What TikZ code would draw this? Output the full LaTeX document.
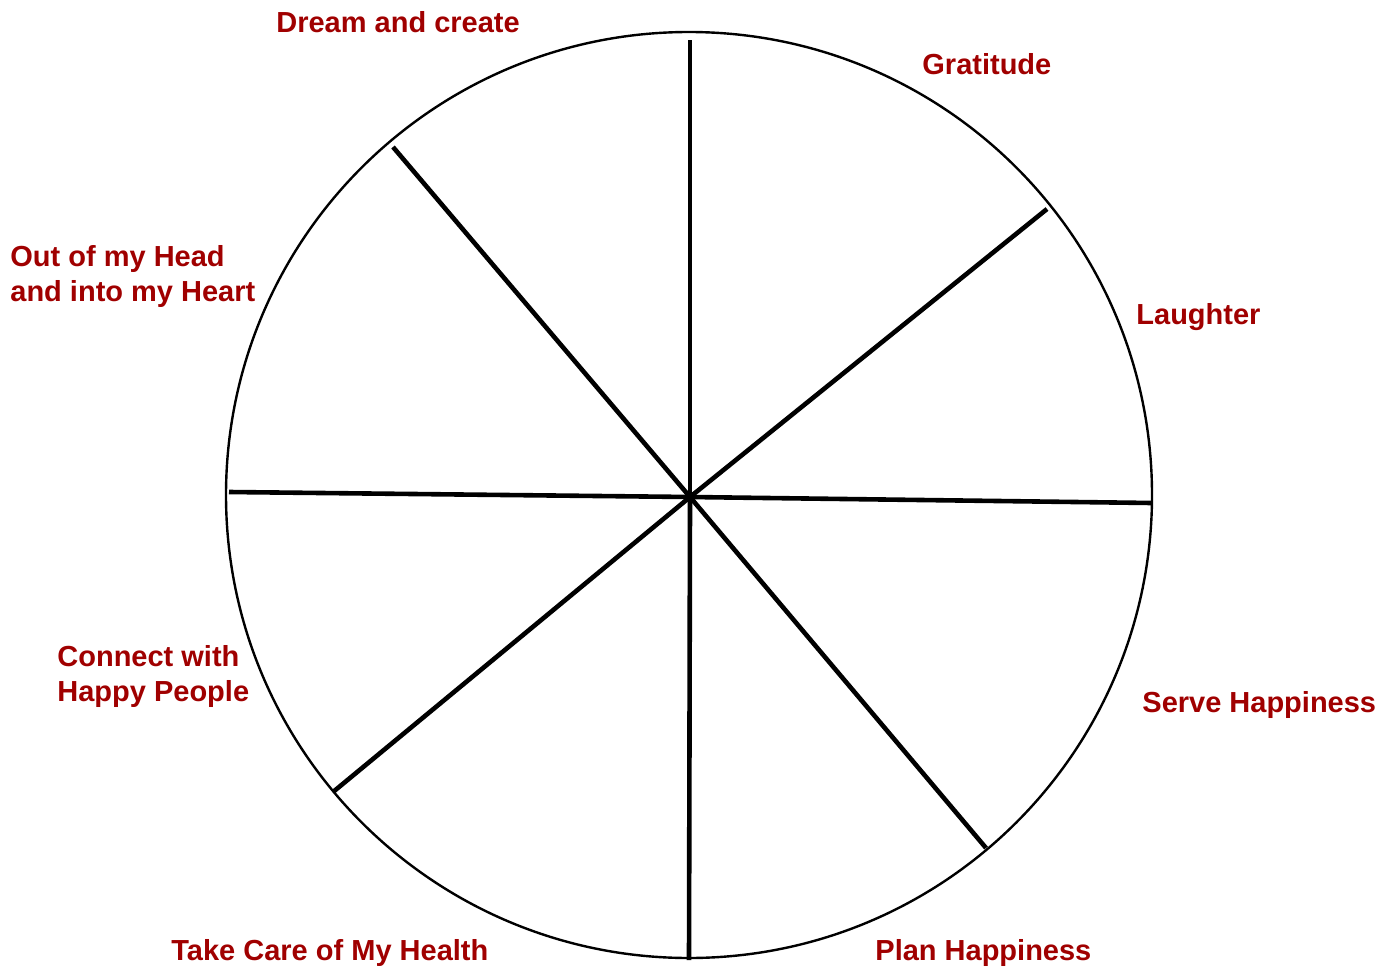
\documentclass[tikz,border=0pt]{standalone}
\usepackage{fontspec}
\setmainfont{Liberation Sans}
\definecolor{wheelred}{RGB}{160,0,0}

\begin{document}
\begin{tikzpicture}[
    x=0.5pt, y=-0.5pt,
    every node/.style={font=\bfseries\fontsize{14.5}{17.5}\selectfont, text=wheelred, inner sep=0pt, align=left},
    lbl/.style={anchor=base west},
    spoke/.style={line width=2.3pt, black},
    rim/.style={line width=1.2pt, black},
]
\useasboundingbox (0,0) rectangle (1395,968);

% Parameters
\def\Rwheel{463}

% === Rim of the wheel ===
\coordinate (hub) at (690,497);
\draw[rim] (689,495) circle (\Rwheel);

% === Spokes (end points on the rim) ===
\coordinate (s1) at (690,40);
\coordinate (s2) at (1047,209);
\coordinate (s3) at (1152,503);
\coordinate (s4) at (986,848);
\coordinate (s5) at (689,960);
\coordinate (s6) at (333,792);
\coordinate (s7) at (229,492);
\coordinate (s8) at (393,147);
\foreach \s in {s1,s2,s3,s4,s5,s6,s7,s8}
    \draw[spoke] (hub) -- (\s);

% === Segment labels (base = baseline of last line) ===
\node[lbl] (dream)   at (276,33)  {Dream and create};
\node[lbl] (grat)    at (922,75)  {Gratitude};
\node[lbl] (laugh)   at (1136,324) {Laughter};
\node[lbl] (serve)   at (1142,712) {Serve Happiness};
\node[lbl] (plan)    at (875,960) {Plan Happiness};
\node[lbl] (health)  at (171,960) {Take Care of My Health};
\node[lbl] (connect) at (57,701)  {Connect with\\Happy People};
\node[lbl] (head)    at (10,301)  {Out of my Head\\and into my Heart};

\end{tikzpicture}
\end{document}
